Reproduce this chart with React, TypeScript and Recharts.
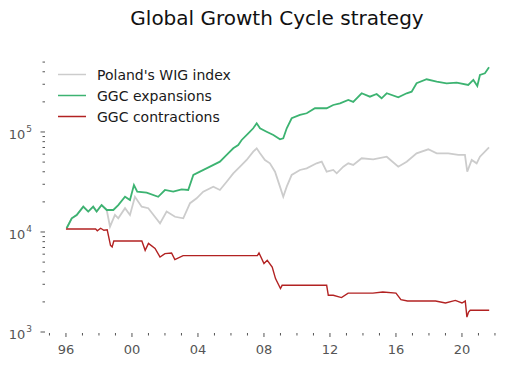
import React from "react";
import { LineChart, Line, XAxis, YAxis } from "recharts";

// year (fractional) and value pairs
const wigYears = [1996.04, 1996.35, 1996.65, 1997.05, 1997.35, 1997.65, 1997.86, 1998.16, 1998.47, 1998.67, 1998.97, 1999.17, 1999.58, 1999.88, 2000.18, 2000.59, 2000.99, 2001.39, 2001.7, 2002.1, 2002.61, 2003.11, 2003.52, 2003.92, 2004.32, 2004.93, 2005.33, 2005.74, 2006.14, 2006.55, 2006.95, 2007.35, 2007.56, 2007.76, 2008.06, 2008.36, 2008.67, 2008.97, 2009.17, 2009.38, 2009.68, 2010.18, 2010.59, 2011.19, 2011.5, 2011.8, 2012.2, 2012.41, 2012.81, 2013.11, 2013.41, 2013.92, 2014.62, 2015.44, 2016.14, 2016.65, 2017.25, 2017.96, 2018.47, 2019.17, 2019.78, 2020.18, 2020.32, 2020.59, 2020.89, 2021.09, 2021.64];
const wigValues = [10900, 13700, 14800, 17900, 16000, 17900, 16000, 18600, 16600, 11300, 14800, 13700, 17300, 14800, 22500, 17900, 17300, 14200, 12200, 16000, 14200, 13700, 19400, 21700, 25300, 28400, 26300, 31800, 38600, 45000, 52500, 63500, 68700, 61200, 52500, 48600, 40100, 28400, 22500, 28400, 37200, 41700, 43300, 48600, 50500, 40100, 41700, 38600, 45000, 48600, 46800, 54600, 53300, 56600, 45000, 50500, 61200, 67100, 61200, 61200, 58900, 58900, 40100, 52500, 48600, 56600, 70300];

const expYears = [1996.04, 1996.35, 1996.65, 1997.05, 1997.35, 1997.65, 1997.86, 1998.16, 1998.47, 1998.87, 1999.17, 1999.58, 1999.88, 2000.12, 2000.32, 2000.89, 2001.59, 2002.0, 2002.5, 2003.01, 2003.41, 2003.72, 2004.12, 2004.73, 2005.33, 2005.74, 2006.14, 2006.44, 2006.65, 2007.05, 2007.35, 2007.56, 2007.76, 2008.16, 2008.57, 2008.97, 2009.17, 2009.38, 2009.68, 2010.18, 2010.59, 2011.09, 2011.8, 2012.2, 2012.61, 2013.11, 2013.41, 2013.92, 2014.42, 2014.83, 2015.13, 2015.44, 2016.14, 2016.65, 2016.95, 2017.25, 2017.86, 2018.47, 2019.07, 2019.68, 2020.38, 2020.69, 2020.93, 2021.09, 2021.39, 2021.64];
const expValues = [10900, 13700, 14800, 17900, 16000, 17900, 16000, 18600, 16600, 16600, 18600, 22500, 20900, 29500, 25300, 24700, 22500, 26300, 25300, 26700, 26300, 37200, 40100, 45000, 50500, 58900, 68700, 74100, 83200, 97000, 108900, 122200, 108900, 100700, 93300, 84500, 86500, 108900, 137100, 147900, 153800, 172600, 172600, 186200, 193600, 208900, 200000, 243800, 225400, 239900, 217300, 243800, 222300, 243800, 252900, 306900, 336500, 318400, 306900, 311200, 295100, 331100, 288400, 371500, 386400, 443600];

const conYears = [1996.0, 1997.8, 1997.9, 1998.1, 1998.3, 1998.5, 1998.7, 1998.8, 1998.9, 2000.6, 2000.8, 2001.0, 2001.4, 2001.7, 2002.0, 2002.4, 2002.6, 2003.1, 2007.6, 2007.7, 2008.0, 2008.2, 2008.5, 2008.7, 2009.0, 2009.1, 2011.6, 2011.8, 2011.9, 2012.2, 2012.7, 2013.1, 2014.6, 2015.2, 2016.0, 2016.3, 2016.7, 2018.4, 2019.0, 2019.6, 2020.0, 2020.2, 2020.3, 2020.4, 2020.5, 2021.65];
const conValues = [10700, 10700, 10300, 10900, 10400, 10500, 7360, 7080, 8130, 8130, 6560, 7690, 6860, 5620, 6070, 6170, 5300, 5800, 5800, 6170, 4830, 5220, 4470, 3420, 2720, 2930, 2930, 2930, 2330, 2330, 2210, 2450, 2450, 2510, 2450, 2110, 2040, 2040, 1950, 2070, 1950, 2040, 1410, 1580, 1650, 1650];

const yearTicks = [1995, 1996, 1997, 1998, 1999, 2000, 2001, 2002, 2003, 2004, 2005, 2006, 2007, 2008, 2009, 2010, 2011, 2012, 2013, 2014, 2015, 2016, 2017, 2018, 2019, 2020, 2021, 2022];
const majorYears = [1996, 2000, 2004, 2008, 2012, 2016, 2020];
const valueTicks = [1000, 2000, 3000, 4000, 5000, 6000, 7000, 8000, 9000, 10000, 20000, 30000, 40000, 50000, 60000, 70000, 80000, 90000, 100000, 200000, 300000, 400000, 500000];
const majorValues = [1000, 10000, 100000];

const legendItems = [
  { name: "Poland's WIG index", color: "#cccccc" },
  { name: "GGC expansions", color: "#3cb371" },
  { name: "GGC contractions", color: "#b22222" },
];

const toRows = (ts: number[], vs: number[]) => ts.map((t, i) => ({ t, v: vs[i] }));
const wig = toRows(wigYears, wigValues);
const exp = toRows(expYears, expValues);
const con = toRows(conYears, conValues);

const FONT = "'DejaVu Sans', sans-serif";

const XTick = (props: any) => {
  const { x, y, payload } = props;
  const major = majorYears.includes(payload.value);
  return (
    <g>
      <line x1={x} x2={x} y1={y + 1} y2={y + (major ? 5 : 3.5)} stroke="#555" strokeWidth={1} />
      {major && (
        <text x={x} y={y + 21.5} textAnchor="middle" fontSize={13} fill="#555" fontFamily={FONT}>
          {String(payload.value % 100).padStart(2, "0")}
        </text>
      )}
    </g>
  );
};

const YTick = (props: any) => {
  const { x, y, payload } = props;
  const major = majorValues.includes(payload.value);
  const exp10 = Math.round(Math.log10(payload.value));
  return (
    <g>
      <line x1={x - (major ? 4.5 : 2.5)} x2={x} y1={y} y2={y} stroke="#555" strokeWidth={1} />
      {major && (
        <text x={x - 13} y={y + 7} textAnchor="end" fontSize={13} fill="#555" fontFamily={FONT}>
          10
          <tspan fontSize={9} dx={1} dy={-7}>{exp10}</tspan>
        </text>
      )}
    </g>
  );
};

export default function App() {
  return (
    <div style={{ position: "absolute", left: 0, top: 0, width: 523, height: 366, background: "#fff" }}>
      <LineChart width={523} height={366} margin={{ top: 57, right: 15, bottom: 4, left: 0 }}>
        <XAxis
          dataKey="t"
          type="number"
          domain={[1994.73, 2022.79]}
          ticks={yearTicks}
          tick={<XTick />}
          tickLine={false}
          axisLine={false}
          tickSize={0}
          tickMargin={0}
          height={30}
          interval={0}
          allowDataOverflow
        />
        <YAxis
          dataKey="v"
          scale="log"
          type="number"
          domain={[1000, 562000]}
          ticks={valueTicks}
          tick={<YTick />}
          tickLine={false}
          axisLine={false}
          tickSize={0}
          tickMargin={0}
          width={45}
          interval={0}
          allowDataOverflow
        />
        <Line data={wig} dataKey="v" name="Poland's WIG index" stroke="#cccccc" strokeWidth={1.8} dot={false} isAnimationActive={false} />
        <Line data={exp} dataKey="v" name="GGC expansions" stroke="#3cb371" strokeWidth={1.8} dot={false} isAnimationActive={false} />
        <Line data={con} dataKey="v" name="GGC contractions" stroke="#b22222" strokeWidth={1.4} dot={false} isAnimationActive={false} />
      </LineChart>
      <svg width={523} height={130} style={{ position: "absolute", left: 0, top: 0, pointerEvents: "none" }}>
        <text x={277} y={25} textAnchor="middle" fontSize={20} fill="#111" fontFamily={FONT}>
          Global Growth Cycle strategy
        </text>
        {legendItems.map((it, i) => (
          <g key={it.name}>
            <line x1={58} x2={86} y1={74.5 + i * 21} y2={74.5 + i * 21} stroke={it.color} strokeWidth={1.5} />
            <text x={97} y={79.5 + i * 21} fontSize={14} fill="#1a1a1a" fontFamily={FONT}>{it.name}</text>
          </g>
        ))}
      </svg>
    </div>
  );
}
